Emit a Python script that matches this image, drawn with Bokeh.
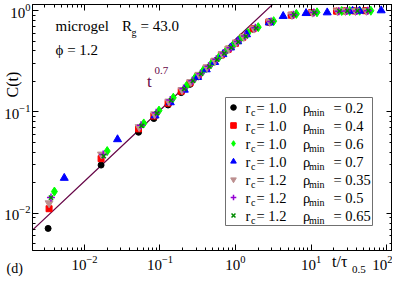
import math
from bokeh.plotting import figure
from bokeh.models import (LogAxis, Label, Legend, LegendItem, CustomJSTickFormatter,
                          LogTicker, Range1d, BoxAnnotation)
from bokeh.embed import file_html
from bokeh.resources import INLINE

# ---------------- data ----------------
T_BLACK = [0.0033, 0.0166, 0.052, 0.083, 0.128, 0.191, 0.25, 0.32, 0.41, 0.52, 0.65, 0.80,
           1.0, 1.25, 1.71, 2.76, 5.47, 10.2, 21.8, 27.8, 37.7, 52.7]
C_BLACK = [0.0071, 0.0299, 0.063, 0.086, 0.117, 0.155, 0.187, 0.222, 0.265, 0.31, 0.36, 0.41,
           0.47, 0.54, 0.655, 0.765, 0.90, 0.955, 0.985, 0.99, 0.99, 0.995]

T_RED = [0.0034, 0.0166, 0.052, 0.083, 0.128, 0.191, 0.25, 0.32, 0.41, 0.52, 0.65, 0.80,
         1.0, 1.25, 1.71, 2.76, 5.47, 10.2, 21.8, 27.8, 37.7, 52.7]
C_RED = [0.0111, 0.0346, 0.068, 0.091, 0.122, 0.16, 0.193, 0.228, 0.27, 0.315, 0.365, 0.415,
         0.475, 0.545, 0.66, 0.77, 0.90, 0.955, 0.985, 0.99, 0.99, 0.995]

T_GREEN = [0.0040, 0.020, 0.061, 0.097, 0.15, 0.224, 0.29, 0.375, 0.48, 0.61, 0.76, 0.94,
           1.17, 1.46, 2.0, 3.2, 6.4, 12.0, 25.5, 32.5, 44.0, 62.0]
C_GREEN = [0.0164, 0.0411, 0.077, 0.103, 0.138, 0.18, 0.216, 0.257, 0.30, 0.35, 0.405, 0.46,
           0.53, 0.60, 0.685, 0.785, 0.925, 0.96, 0.99, 0.99, 0.995, 0.995]

T_BLUE = [0.0054, 0.0274, 0.086, 0.137, 0.21, 0.315, 0.41, 0.53, 0.68, 0.86, 1.07, 1.40,
          2.8, 4.28, 8.6, 16.4, 35.5, 44.0, 85.0]
C_BLUE = [0.0223, 0.0536, 0.092, 0.124, 0.165, 0.22, 0.262, 0.31, 0.37, 0.43, 0.495, 0.58,
          0.76, 0.88, 0.94, 0.955, 0.99, 0.99, 1.0]

T_BROWN = [0.0034, 0.0168, 0.053, 0.085, 0.131, 0.196, 0.256, 0.33, 0.42, 0.535, 0.67, 0.82,
           1.03, 1.29, 1.76, 2.84, 5.6, 10.5, 22.4, 28.6, 38.8, 54.2]
C_BROWN = [0.0126, 0.0381, 0.071, 0.095, 0.127, 0.165, 0.198, 0.233, 0.276, 0.32, 0.372, 0.42,
           0.485, 0.55, 0.665, 0.775, 0.905, 0.955, 0.985, 0.99, 0.99, 0.995]

T_VIOLET = [0.0036, 0.0177, 0.056, 0.089, 0.137, 0.205, 0.268, 0.343, 0.44, 0.557, 0.70, 0.86,
            1.07, 1.34, 1.83, 2.96, 5.85, 10.9, 23.3, 29.8, 40.4, 56.4]
C_VIOLET = [0.0143, 0.0381, 0.074, 0.098, 0.131, 0.17, 0.203, 0.238, 0.282, 0.33, 0.38, 0.43,
            0.495, 0.56, 0.675, 0.78, 0.91, 0.955, 0.985, 0.99, 0.99, 0.995]

T_GX = [0.0036, 0.0180, 0.057, 0.091, 0.140, 0.209, 0.273, 0.35, 0.45, 0.57, 0.71, 0.875,
        1.09, 1.37, 1.87, 3.02, 5.95, 11.1, 23.8, 30.3, 41.2, 57.5]
C_GX = [0.0143, 0.0367, 0.073, 0.097, 0.13, 0.169, 0.202, 0.237, 0.28, 0.328, 0.378, 0.43,
        0.49, 0.555, 0.67, 0.78, 0.91, 0.955, 0.985, 0.99, 0.99, 0.995]

RC_LABELS = ["1.0", "1.0", "1.0", "1.0", "1.2", "1.2", "1.2"]
RHO_LABELS = ["0.2", "0.4", "0.6", "0.7", "0.35", "0.5", "0.65"]

# power-law guide t^0.7
GUIDE_EXPONENT = 0.7
GUIDE_PREFACTOR = 0.52
GUIDE_T = [0.002, 0.01, 0.1, 1.0, 4.0]

X_RANGE = (0.00205, 120.0)
Y_RANGE = (0.0043, 1.146)

FONT = "Liberation Serif"
MAROON = "#670748"

# ---------------- figure ----------------
FRAME_W, FRAME_H = 360, 246
FRAME_LEFT_PX, FRAME_TOP_PX = 32, 4
p = figure(x_axis_type="log", y_axis_type="log",
           x_range=Range1d(*X_RANGE), y_range=Range1d(*Y_RANGE),
           frame_width=FRAME_W, frame_height=FRAME_H,
           min_border_left=FRAME_LEFT_PX, min_border_right=0,
           min_border_top=FRAME_TOP_PX, min_border_bottom=0,
           output_backend="svg", toolbar_location=None)
p.grid.visible = False
p.outline_line_color = "black"
p.outline_line_width = 1
p.background_fill_color = "white"
p.border_fill_color = "white"

blank = CustomJSTickFormatter(code="return '';")
p.add_layout(LogAxis(formatter=blank, major_label_standoff=0), "above")
p.add_layout(LogAxis(formatter=blank, major_label_standoff=0), "right")

for ax in p.axis:
    ax.ticker = LogTicker(num_minor_ticks=10)
    ax.axis_line_color = "black"
    ax.major_tick_line_color = "black"
    ax.minor_tick_line_color = "black"
    ax.major_tick_in = 6
    ax.major_tick_out = 0
    ax.minor_tick_in = 3
    ax.minor_tick_out = 0
    ax.major_label_text_font = FONT
    ax.major_label_text_font_size = "15px"
    ax.major_label_text_color = "black"

p.xaxis[0].major_label_standoff = 3
p.yaxis[0].major_label_standoff = 2

# guide line
guide_c = [GUIDE_PREFACTOR * t ** GUIDE_EXPONENT for t in GUIDE_T]
p.line(GUIDE_T, guide_c, line_color=MAROON, line_width=1.2)

r1 = p.scatter(T_BLACK, C_BLACK, marker="circle", size=6, fill_color="black", line_color="black")
r2 = p.scatter(T_RED, C_RED, marker="square", size=6, fill_color="#ff0000", line_color="#ff0000")
r3 = p.scatter(T_GREEN, C_GREEN, marker="diamond", size=9, fill_color="#00ff00", line_color="#00ff00")
r4 = p.scatter(T_BLUE, C_BLUE, marker="triangle", size=8, fill_color="#0000ff", line_color="#0000ff")
r5 = p.scatter(T_BROWN, C_BROWN, marker="inverted_triangle", size=8, fill_color="#bc8f8f", line_color="#bc8f8f")
r6 = p.scatter(T_VIOLET, C_VIOLET, marker="cross", size=8, line_color="#9400d3", line_width=1.5)
r7 = p.scatter(T_GX, C_GX, marker="x", size=6, line_color="#008b00", line_width=1.5)
renderers = [r1, r2, r3, r4, r5, r6, r7]

# ---------------- placement helpers (pixel -> data on the log scales) ----------------
PX_DEC_X = FRAME_W / (math.log10(X_RANGE[1]) - math.log10(X_RANGE[0]))
PX_DEC_Y = FRAME_H / (math.log10(Y_RANGE[1]) - math.log10(Y_RANGE[0]))


def dx(px):
    return 10 ** (math.log10(X_RANGE[0]) + (px - FRAME_LEFT_PX) / PX_DEC_X)


def dy(py):
    return 10 ** (math.log10(Y_RANGE[1]) - (py - FRAME_TOP_PX) / PX_DEC_Y)


def lab(text, px, py, size="15px", color="black", align="left", angle=0.0, side="center"):
    L = Label(text=text, x=dx(px), y=dy(py), x_units="data", y_units="data",
              text_font=FONT, text_font_size=size, text_color=color,
              text_align=align, text_baseline="middle", angle=angle, level="overlay")
    p.add_layout(L, side)


# legend: glyphs from Bokeh, frame drawn as a box, texts overlaid with sub-scripts
LEG_LEFT_PX, LEG_TOP_PX = 225, 97
ROW_H, PAD = 18, 1
LEG_W = PAD + 14 + 5 + 126 + PAD
LEG_H = 7 * ROW_H + 2 * PAD
legend = Legend(items=[LegendItem(label=" ", renderers=[r]) for r in renderers],
                location=(LEG_LEFT_PX - FRAME_LEFT_PX, FRAME_TOP_PX + FRAME_H - LEG_TOP_PX - LEG_H),
                orientation="vertical",
                padding=PAD, spacing=0, margin=0,
                glyph_width=14, glyph_height=ROW_H, label_height=ROW_H,
                label_width=126, label_standoff=5,
                label_text_font_size="6px",
                border_line_alpha=0.0, background_fill_alpha=0.0)
p.add_layout(legend, "center")
p.add_layout(BoxAnnotation(left=dx(LEG_LEFT_PX), right=dx(LEG_LEFT_PX + LEG_W),
                           top=dy(LEG_TOP_PX), bottom=dy(LEG_TOP_PX + LEG_H),
                           fill_alpha=0.0, line_color="#707070", line_width=1,
                           line_alpha=1.0, level="underlay"))

for i, (rc, rho) in enumerate(zip(RC_LABELS, RHO_LABELS)):
    yc = LEG_TOP_PX + PAD + ROW_H / 2 + i * ROW_H
    lab("r", 245, yc, "14.5px")
    lab("c", 250.5, yc + 5, "10px")
    lab("= " + rc, 256, yc, "14.5px")
    lab("\u03c1", 302.5, yc, "14.5px")
    lab("min", 308.5, yc + 5, "10px")
    lab("= " + rho, 333, yc, "14.5px")

# annotations inside the frame
lab("microgel", 55, 25)
lab("R", 121.5, 25)
lab("g", 131, 32, "10px")
lab("= 43.0", 140, 25)
lab("\u03d5 = 1.2", 55, 49)
lab("t", 146.5, 81, "17px", MAROON)
lab("0.7", 154, 70, "11px", MAROON)

# annotations outside the frame (side panel, not clipped)
lab("C(t)", 12, 84, "16px", align="center", angle=math.pi / 2, side="below")
lab("t/\u03c4", 331.5, 261, "16px", side="below")
lab("0.5", 351.5, 269, "11px", side="below")
lab("(d)", 6, 268, "14px", side="below")

open("out.html", "w").write(file_html(p, INLINE))
